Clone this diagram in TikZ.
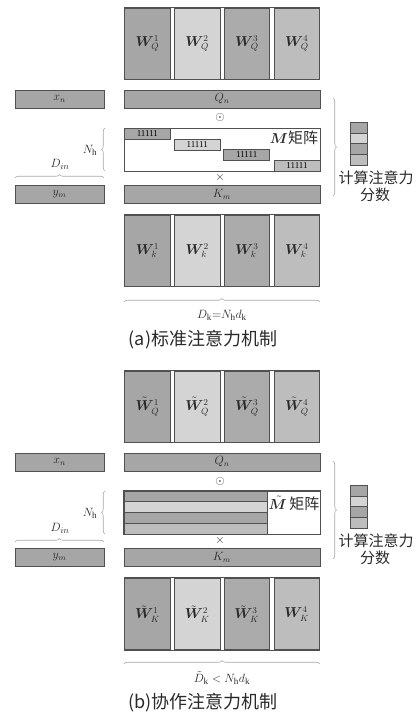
\documentclass[tikz,border=0pt]{standalone}
\usepackage{amsmath,bm}
\usepackage{fontspec}
\setmainfont{Liberation Serif}
\newfontfamily\cjk{Noto Sans CJK SC}
\usetikzlibrary{decorations.pathreplacing}
\definecolor{dk}{HTML}{505050}
\definecolor{gA}{HTML}{A6A6A6}
\definecolor{gB}{HTML}{D4D4D4}
\definecolor{gC}{HTML}{ABABAB}
\definecolor{gD}{HTML}{BDBDBD}
\definecolor{brgray}{HTML}{A8A8A8}
\definecolor{txt}{HTML}{2A2A2A}
\begin{document}
\begin{tikzpicture}[x=1pt,y=-1pt,
  edge/.style={draw=dk, line width=1pt},
  wbox/.style={draw=dk, line width=0.8pt, minimum width=45.5pt, minimum height=71pt, inner sep=0pt, text=txt, font=\fontsize{13.5}{13.5}\selectfont},
  bar/.style={draw=dk, line width=0.7pt, fill=gA, minimum height=18pt, inner sep=0pt, text=txt, font=\fontsize{12}{12}\selectfont},
  onebox/.style={draw=dk, line width=0.7pt, minimum width=46pt, minimum height=11pt, inner sep=0pt, font=\fontsize{9}{9}\selectfont},
  stripe/.style={draw=dk, line width=0.6pt, minimum width=143pt, minimum height=10.75pt, inner sep=0pt},
  cell/.style={draw=dk, line width=0.6pt, minimum width=17pt, minimum height=10.7pt, inner sep=0pt},
  mbox/.style={draw=dk, line width=0.8pt, fill=white, minimum width=196pt, minimum height=43pt, inner sep=0pt},
  brc/.style={draw=brgray, line width=0.6pt, decorate, decoration={brace, amplitude=3.5pt}},
  lbl/.style={inner sep=0pt, text=txt, font=\fontsize{13}{13}\selectfont},
  cn/.style={inner sep=0pt, text=txt, font=\cjk\fontsize{15}{15}\selectfont},
  captxt/.style={inner sep=0pt, text=txt, font=\cjk\fontsize{18}{18}\selectfont}
]
\useasboundingbox[fill=white] (0,0) rectangle (418,720);

% ================= (a) =================
\begin{scope}
\node[wbox, fill=gA] (aWq1) at (147.5,43.5) {$\bm{W}^{1}_{Q}$};
\node[wbox, fill=gB] (aWq2) at (197.2,43.5) {$\bm{W}^{2}_{Q}$};
\node[wbox, fill=gC] (aWq3) at (246.8,43.5) {$\bm{W}^{3}_{Q}$};
\node[wbox, fill=gD] (aWq4) at (296.8,43.5) {$\bm{W}^{4}_{Q}$};
\draw[edge] ([yshift=0.5pt]aWq1.north west) -- ([yshift=0.5pt]aWq4.north east);
\draw[edge] ([yshift=-0.5pt]aWq1.south west) -- ([yshift=-0.5pt]aWq4.south east);

\node[bar, minimum width=89pt] (axn) at (59.5,99) {$x_n$};
\node[bar, minimum width=196pt] (aQn) at (222,99) {$Q_n$};
\node[lbl] (aodot) at (220,117) {$\odot$};

\node[mbox] (aM) at (222,149.5) {};
\node[onebox, fill=gA] (ao1) at (147.4,133.5) {11111};
\node[onebox, fill=gB] (ao2) at (197.2,144.5) {11111};
\node[onebox, fill=gA] (ao3) at (246.7,155) {11111};
\node[onebox, fill=gD] (ao4) at (297,165.5) {11111};
\node[inner sep=0pt, text=txt, font=\fontsize{15}{15}\selectfont] (aMl) at (294,138) {$\bm{M}$\cjk 矩阵};

\node[lbl] (aNh) at (90,150) {$N_{\mathrm{h}}$};
\coordinate (aNb1) at (105,171);
\coordinate (aNb2) at (105,128);
\draw[brc] (aNb1) -- (aNb2);

\node[lbl] (aDin) at (60,164) {$D_{in}$};
\coordinate (aDb1) at (15,178);
\coordinate (aDb2) at (104,178);
\draw[brc] (aDb1) -- (aDb2);

\node[lbl] (atimes) at (220,177) {$\times$};
\node[bar, minimum width=89pt] (aym) at (59.5,194.5) {$y_m$};
\node[bar, minimum width=196pt] (aKm) at (222,194.5) {$K_m$};

\node[wbox, fill=gA] (aWk1) at (147.5,250.5) {$\bm{W}^{1}_{k}$};
\node[wbox, fill=gB] (aWk2) at (197.2,250.5) {$\bm{W}^{2}_{k}$};
\node[wbox, fill=gC] (aWk3) at (246.8,250.5) {$\bm{W}^{3}_{k}$};
\node[wbox, fill=gD] (aWk4) at (296.8,250.5) {$\bm{W}^{4}_{k}$};
\draw[edge] ([yshift=0.5pt]aWk1.north west) -- ([yshift=0.5pt]aWk4.north east);
\draw[edge] ([yshift=-0.5pt]aWk1.south west) -- ([yshift=-0.5pt]aWk4.south east);

\coordinate (aKb1) at (124,302);
\coordinate (aKb2) at (320,302);
\draw[brc] (aKb1) -- (aKb2);
\node[lbl] (aDk) at (222,315) {$D_{\mathrm{k}}{=}N_{\mathrm{h}}d_{\mathrm{k}}$};

\coordinate (aRb1) at (333,98);
\coordinate (aRb2) at (333,196);
\draw[brc] (aRb1) -- (aRb2);
\node[cell, fill=gA] (ac1) at (358.7,127.6) {};
\node[cell, fill=gB] (ac2) at (358.7,138.3) {};
\node[cell, fill=gA] (ac3) at (358.7,149) {};
\node[cell, fill=gD] (ac4) at (358.7,159.7) {};
\node[cn] (acalc) at (376,178) {计算注意力};
\node[cn] (ascore) at (375,195) {分数};

\node[captxt] (acap) at (203,340) {(a)标准注意力机制};
\end{scope}

% ================= (b) =================
\begin{scope}[yshift=-363pt]
\node[wbox, fill=gA] (bWq1) at (147.5,43.5) {$\tilde{\bm{W}}^{1}_{Q}$};
\node[wbox, fill=gB] (bWq2) at (197.2,43.5) {$\tilde{\bm{W}}^{2}_{Q}$};
\node[wbox, fill=gC] (bWq3) at (246.8,43.5) {$\tilde{\bm{W}}^{3}_{Q}$};
\node[wbox, fill=gD] (bWq4) at (296.8,43.5) {$\tilde{\bm{W}}^{4}_{Q}$};
\draw[edge] ([yshift=0.5pt]bWq1.north west) -- ([yshift=0.5pt]bWq4.north east);
\draw[edge] ([yshift=-0.5pt]bWq1.south west) -- ([yshift=-0.5pt]bWq4.south east);

\node[bar, minimum width=89pt] (bxn) at (59.5,99) {$x_n$};
\node[bar, minimum width=196pt] (bQn) at (222,99) {$Q_n$};
\node[lbl] (bodot) at (220,118) {$\odot$};

\node[mbox] (bM) at (222,149.5) {};
\node[stripe, fill=gA] (bs1) at (195.5,133.4) {};
\node[stripe, fill=gB] (bs2) at (195.5,144.1) {};
\node[stripe, fill=gA] (bs3) at (195.5,154.9) {};
\node[stripe, fill=gD] (bs4) at (195.5,165.6) {};
\draw[draw=dk, line width=0.8pt] (bM.north west) rectangle (bM.south east);
\node[inner sep=0pt, text=txt, font=\fontsize{15}{15}\selectfont] (bMl) at (294,140) {$\tilde{\bm{M}}$\,\cjk 矩阵};

\node[lbl] (bNh) at (90,150) {$N_{\mathrm{h}}$};
\coordinate (bNb1) at (105,171);
\coordinate (bNb2) at (105,128);
\draw[brc] (bNb1) -- (bNb2);

\node[lbl] (bDin) at (60,165) {$D_{in}$};
\coordinate (bDb1) at (15,179);
\coordinate (bDb2) at (104,179);
\draw[brc] (bDb1) -- (bDb2);

\node[lbl] (btimes) at (220,177) {$\times$};
\node[bar, minimum width=89pt] (bym) at (59.5,194.5) {$y_m$};
\node[bar, minimum width=196pt] (bKm) at (222,194.5) {$K_m$};

\node[wbox, fill=gA] (bWk1) at (147.5,251) {$\tilde{\bm{W}}^{1}_{K}$};
\node[wbox, fill=gB] (bWk2) at (197.2,251) {$\tilde{\bm{W}}^{2}_{K}$};
\node[wbox, fill=gC] (bWk3) at (246.8,251) {$\tilde{\bm{W}}^{3}_{K}$};
\node[wbox, fill=gD] (bWk4) at (296.8,251) {$\bm{W}^{4}_{K}$};
\draw[edge] ([yshift=0.5pt]bWk1.north west) -- ([yshift=0.5pt]bWk4.north east);
\draw[edge] ([yshift=-0.5pt]bWk1.south west) -- ([yshift=-0.5pt]bWk4.south east);

\coordinate (bKb1) at (124,301);
\coordinate (bKb2) at (320,301);
\draw[brc] (bKb1) -- (bKb2);
\node[lbl] (bDk) at (222,315) {$\tilde{D}_{\mathrm{k}}<N_{\mathrm{h}}d_{\mathrm{k}}$};

\coordinate (bRb1) at (333,98);
\coordinate (bRb2) at (333,196);
\draw[brc] (bRb1) -- (bRb2);
\node[cell, fill=gA] (bc1) at (358.7,127.6) {};
\node[cell, fill=gB] (bc2) at (358.7,138.3) {};
\node[cell, fill=gA] (bc3) at (358.7,149) {};
\node[cell, fill=gD] (bc4) at (358.7,159.7) {};
\node[cn] (bcalc) at (376,178) {计算注意力};
\node[cn] (bscore) at (375,195) {分数};

\node[captxt] (bcap) at (203,340) {(b)协作注意力机制};
\end{scope}
\end{tikzpicture}
\end{document}
